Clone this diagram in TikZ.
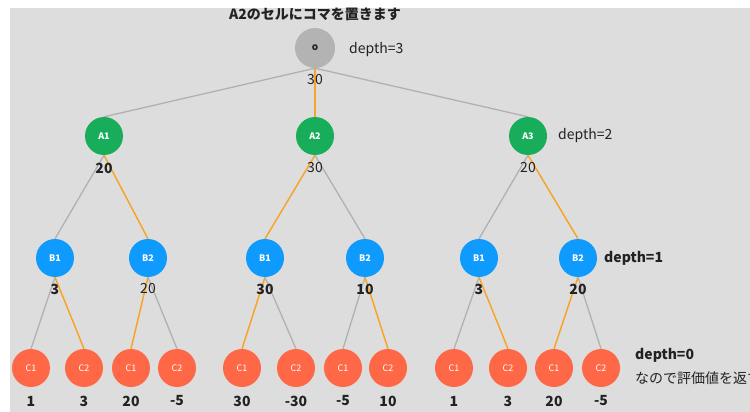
\documentclass[tikz,border=0pt]{standalone}
\usepackage{fontspec}
\setmainfont{Noto Sans CJK JP}
\usepackage{tikz}

\definecolor{bgray}{HTML}{DDDDDD}
\definecolor{rootgray}{HTML}{B3B3B3}
\definecolor{agreen}{HTML}{17AD5B}
\definecolor{bblue}{HTML}{0F9AFE}
\definecolor{cred}{HTML}{FF6847}
\definecolor{pick}{HTML}{F7A52A}
\definecolor{skip}{HTML}{B1B1B1}
\definecolor{ink}{HTML}{222222}

\pgfdeclarelayer{back}
\pgfdeclarelayer{edges}
\pgfsetlayers{back,edges,main}

\tikzset{
  nd/.style={circle, minimum size=38pt, inner sep=0pt, text=white, font=\fontsize{9}{10}\selectfont\bfseries},
  rootnd/.style={nd, fill=rootgray, minimum size=40pt, text=ink, font=\fontsize{10}{11}\selectfont\bfseries},
  anode/.style={nd, fill=agreen},
  bnode/.style={nd, fill=bblue},
  cnode/.style={nd, fill=cred, font=\fontsize{9}{10}\selectfont},
  val/.style={text=ink, inner sep=0pt, font=\fontsize{14}{16}\selectfont},
  bval/.style={val, font=\fontsize{14}{16}\selectfont\bfseries},
  note/.style={text=ink, anchor=west, inner sep=0pt, font=\fontsize{14}{16}\selectfont},
  bnote/.style={note, font=\fontsize{14}{16}\selectfont\bfseries},
  pickedge/.style={draw=pick, line width=1.5pt},
  skipedge/.style={draw=skip, line width=1.3pt}
}

\begin{document}
\begin{tikzpicture}[x=1pt, y=-1pt]
		\useasboundingbox (0,0) rectangle (750,412);
		\begin{pgfonlayer}{back}
			\fill[bgray] (10,8) rectangle (750,412);
		\end{pgfonlayer}

		\node[bnote, anchor=center] (title) at (315,14) {A2のセルにコマを置きます};

		% depth=3
		\node[rootnd] (o) at (315,48) {o};
		\node[val] (vo) at (315,80) {30};
		\node[note] (d3) at (349,50) {depth=3};

		% depth=2
		\node[anode] (A1) at (104,136) {A1};
		\node[anode] (A2) at (315,136) {A2};
		\node[anode] (A3) at (528,136) {A3};
		\node[bval] (vA1) at (104,168) {20};
		\node[val] (vA2) at (315,168) {30};
		\node[val] (vA3) at (528,168) {20};
		\node[note] (d2) at (558,136) {depth=2};

		% depth=1
		\node[bnode] (B11) at (55,258) {B1};
		\node[bnode] (B12) at (148,258) {B2};
		\node[bnode] (B21) at (265,258) {B1};
		\node[bnode] (B22) at (365,258) {B2};
		\node[bnode] (B31) at (479,258) {B1};
		\node[bnode] (B32) at (578,258) {B2};
		\node[bval] (vB11) at (55,289) {3};
		\node[val] (vB12) at (148,289) {20};
		\node[bval] (vB21) at (265,289) {30};
		\node[bval] (vB22) at (365,289) {10};
		\node[bval] (vB31) at (479,289) {3};
		\node[bval] (vB32) at (578,289) {20};
		\node[bnote] (d1) at (604,258) {depth=1};

		% depth=0
		\node[cnode] (C111) at (31,368) {C1};
		\node[cnode] (C112) at (84,368) {C2};
		\node[cnode] (C121) at (131,368) {C1};
		\node[cnode] (C122) at (177,368) {C2};
		\node[cnode] (C211) at (242,368) {C1};
		\node[cnode] (C212) at (296,368) {C2};
		\node[cnode] (C221) at (343,368) {C1};
		\node[cnode] (C222) at (388,368) {C2};
		\node[cnode] (C311) at (454,368) {C1};
		\node[cnode] (C312) at (508,368) {C2};
		\node[cnode] (C321) at (554,368) {C1};
		\node[cnode] (C322) at (601,368) {C2};
		\node[bval] (vC111) at (31,401) {1};
		\node[bval] (vC112) at (84,401) {3};
		\node[bval] (vC121) at (131,401) {20};
		\node[bval] (vC122) at (177,401) {-5};
		\node[bval] (vC211) at (242,401) {30};
		\node[bval] (vC212) at (296,401) {-30};
		\node[bval] (vC221) at (343,401) {-5};
		\node[bval] (vC222) at (388,401) {10};
		\node[bval] (vC311) at (454,401) {1};
		\node[bval] (vC312) at (508,401) {3};
		\node[bval] (vC321) at (554,401) {20};
		\node[bval] (vC322) at (601,401) {-5};
		\node[bnote] (d0) at (635,355) {depth=0};
		\node[note] (d0b) at (635,378) {なので評価値を返す};

		\begin{pgfonlayer}{edges}
			\draw[skipedge] (o.south) -- (A1.north);
			\draw[pickedge] (o.south) -- (A2.north);
			\draw[skipedge] (o.south) -- (A3.north);

			\draw[skipedge] (A1.south) -- (B11.north);
			\draw[pickedge] (A1.south) -- (B12.north);
			\draw[pickedge] (A2.south) -- (B21.north);
			\draw[skipedge] (A2.south) -- (B22.north);
			\draw[skipedge] (A3.south) -- (B31.north);
			\draw[pickedge] (A3.south) -- (B32.north);

			\draw[skipedge] (B11.south) -- (C111.north);
			\draw[pickedge] (B11.south) -- (C112.north);
			\draw[pickedge] (B12.south) -- (C121.north);
			\draw[skipedge] (B12.south) -- (C122.north);
			\draw[pickedge] (B21.south) -- (C211.north);
			\draw[skipedge] (B21.south) -- (C212.north);
			\draw[skipedge] (B22.south) -- (C221.north);
			\draw[pickedge] (B22.south) -- (C222.north);
			\draw[skipedge] (B31.south) -- (C311.north);
			\draw[pickedge] (B31.south) -- (C312.north);
			\draw[pickedge] (B32.south) -- (C321.north);
			\draw[skipedge] (B32.south) -- (C322.north);
		\end{pgfonlayer}
	\end{tikzpicture}
\end{document}
